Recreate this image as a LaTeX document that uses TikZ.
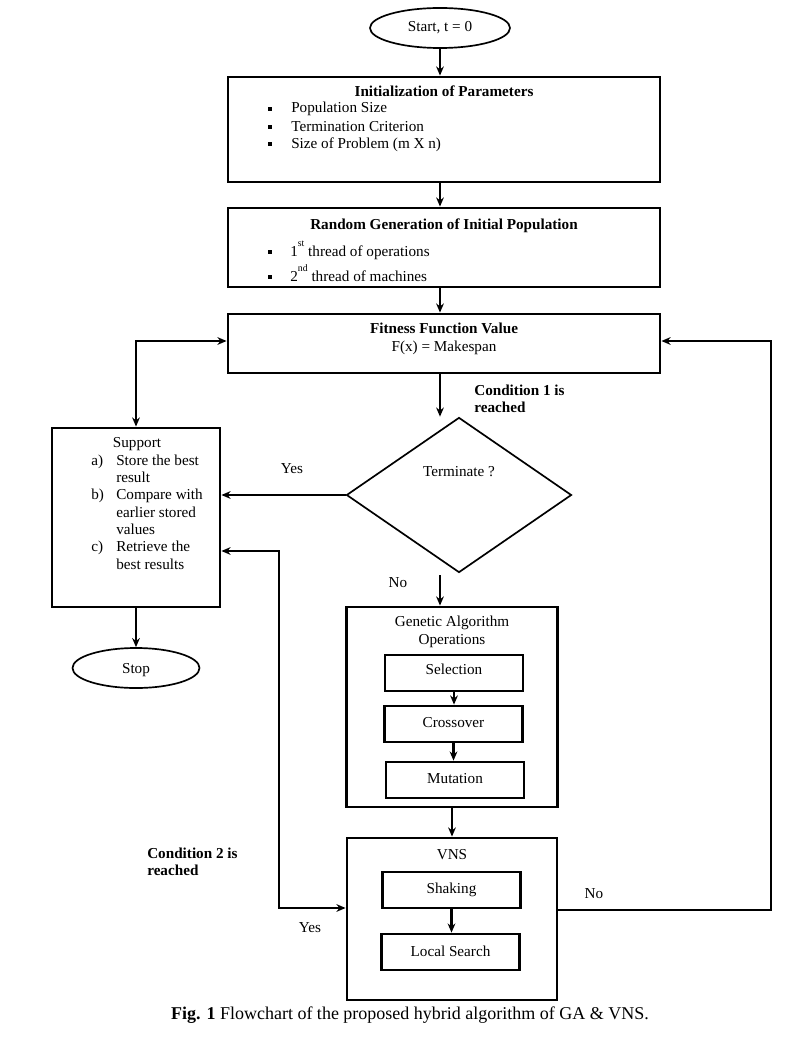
\documentclass[tikz,border=0pt]{standalone}
\usepackage{fontspec}
\setmainfont{Liberation Serif}
\usetikzlibrary{shapes.geometric, arrows.meta, positioning}

\begin{document}
\begin{tikzpicture}[
  x=0.025cm, y=-0.025cm,
  font=\fontsize{10.8}{13}\selectfont,
  box/.style={rectangle, draw, line width=2pt, inner sep=0pt},
  subbox/.style={rectangle, draw, line width=2pt, minimum width=3.45cm,
                 minimum height=0.9cm, inner sep=0pt},
  term/.style={ellipse, draw, line width=1.2pt, minimum height=1cm, inner sep=0pt},
  decision/.style={diamond, draw, line width=1.2pt, minimum width=5.625cm,
                   minimum height=3.875cm, inner sep=0pt},
  txt/.style={inner sep=0pt, anchor=base west},
  ctxt/.style={inner sep=0pt, anchor=base},
  bold/.style={font=\fontsize{10.8}{13}\selectfont\bfseries},
  bul/.style={rectangle, fill, minimum size=3pt, inner sep=0pt},
  arr/.style={-{Stealth[length=6.5pt, width=5.5pt]}, line width=2pt},
  twoway/.style={{Stealth[length=6.5pt, width=5.5pt]}-{Stealth[length=6.5pt, width=5.5pt]}, line width=2pt}
]
  \useasboundingbox (0,0) rectangle (806,1058);

  % terminals
  \node[term, minimum width=3.5cm] (start) at (440,28) {};
  \node[ctxt] (startT) at (440,32) {Start, t = 0};
  \node[term, minimum width=3.175cm] (stop) at (136,668) {};
  \node[ctxt] (stopT) at (136,673) {Stop};

  % main column
  \node[box, minimum width=10.8cm, minimum height=2.625cm] (init) at (444,129.5) {};
  \node[ctxt, bold] (initT) at (444,96) {Initialization of Parameters};
  \foreach \y/\t in {109/Population Size, 127/Termination Criterion, 144/Size of Problem (m X n)} {
    \node[bul] at (270,\y) {};
    \node[txt] at (291,\y+4) {\t};
  }

  \node[box, minimum width=10.8cm, minimum height=1.975cm] (rand) at (444,247.5) {};
  \node[ctxt, bold] (randT) at (444,229) {Random Generation of Initial Population};
  \node[bul] at (270,252) {};
  \node[txt] (thr1) at (290,256) {1\raisebox{1.3ex}{\scriptsize st} thread of operations};
  \node[bul] at (270,277) {};
  \node[txt] (thr2) at (290,281) {2\raisebox{1.3ex}{\scriptsize nd} thread of machines};

  \node[box, minimum width=10.8cm, minimum height=1.475cm] (fit) at (444,343.5) {};
  \node[ctxt, bold] (fitT) at (444,333) {Fitness Function Value};
  \node[ctxt] (fitF) at (444,351) {F(x) = Makespan};

  \node[decision] (dia) at (459,495) {};
  \node[ctxt] (diaT) at (459,476) {Terminate ?};

  % support box
  \node[box, minimum width=4.2cm, minimum height=4.475cm] (sup) at (136,517.5) {};
  \node[ctxt] (supT) at (137,447) {Support};
  \foreach \y/\l in {461/a), 495/b), 547/c)}
    \node[txt] at (91,\y+4) {\l};
  \foreach \y/\t in {461/Store the best, 478/result, 495/Compare with, 513/earlier stored,
                     530/values, 547/Retrieve the, 565/best results}
    \node[txt] at (116,\y+4) {\t};

  % GA operations
  \node[box, minimum width=5.275cm, minimum height=5cm] (ga) at (452,707) {};
  \node[ctxt] (gaT1) at (452,626) {Genetic Algorithm};
  \node[ctxt] (gaT2) at (452,644) {Operations};
  \node[subbox] (sel) at (454,673) {};
  \node[ctxt] at (454,674) {Selection};
  \node[subbox] (cro) at (453.5,724) {};
  \node[ctxt] at (453.5,727) {Crossover};
  \node[subbox] (mut) at (455,780) {};
  \node[ctxt] at (455,783) {Mutation};

  % VNS
  \node[box, minimum width=5.25cm, minimum height=4.05cm] (vns) at (452,919) {};
  \node[ctxt] (vnsT) at (452,859) {VNS};
  \node[subbox] (shk) at (451.5,890) {};
  \node[ctxt] at (451.5,893) {Shaking};
  \node[subbox] (ls) at (450.5,952) {};
  \node[ctxt] at (450.5,956) {Local Search};

  % labels
  \node[txt, bold] (cond1a) at (474,395) {Condition 1 is};
  \node[txt, bold] (cond1b) at (474,412) {reached};
  \node[txt, bold] (cond2a) at (147,858) {Condition 2 is};
  \node[txt, bold] (cond2b) at (147,875) {reached};
  \node[ctxt] (yes1) at (292,473) {Yes};
  \node[ctxt] (no1) at (398,587) {No};
  \node[ctxt] (no2) at (594,898) {No};
  \node[ctxt] (yes2) at (310,932) {Yes};

  % connectors
  \coordinate (noTop) at (440,575);
  \coordinate (yesA) at (279,551);
  \coordinate (yesB) at (279,908);
  \coordinate (loopA) at (771,910);
  \coordinate (loopB) at (771,341);
  \draw[arr] (start.south) -- (start.south |- init.north);
  \draw[arr] (start.south |- init.south) -- (start.south |- rand.north);
  \draw[arr] (start.south |- rand.south) -- (start.south |- fit.north);
  \draw[arr] (start.south |- fit.south) -- (start.south |- dia.north);
  \draw[arr] (dia.west) -- (sup.east |- dia.west);
  \draw[twoway] (sup.north) |- (fit.west |- loopB);
  \draw[arr] (sup.south) -- (stop.north);
  \draw[arr] (noTop) -- (noTop |- ga.north);
  \draw[arr] (sel.south) -- (sel.south |- cro.north);
  \draw[arr] (cro.south) -- (cro.south |- mut.north);
  \draw[arr] (ga.south) -- (vns.north);
  \draw[arr] (shk.south) -- (shk.south |- ls.north);
  \draw[arr] (vns.east |- loopA) -- (loopA) -- (loopB) -- (fit.east |- loopB);
  \draw[twoway] (sup.east |- yesA) -- (yesA) -- (yesB) -- (vns.west |- yesB);

  % caption
  \node[ctxt, font=\fontsize{12.8}{15}\selectfont] (cap) at (410,1019)
    {\textbf{Fig. 1} Flowchart of the proposed hybrid algorithm of GA \& VNS.};
\end{tikzpicture}
\end{document}
